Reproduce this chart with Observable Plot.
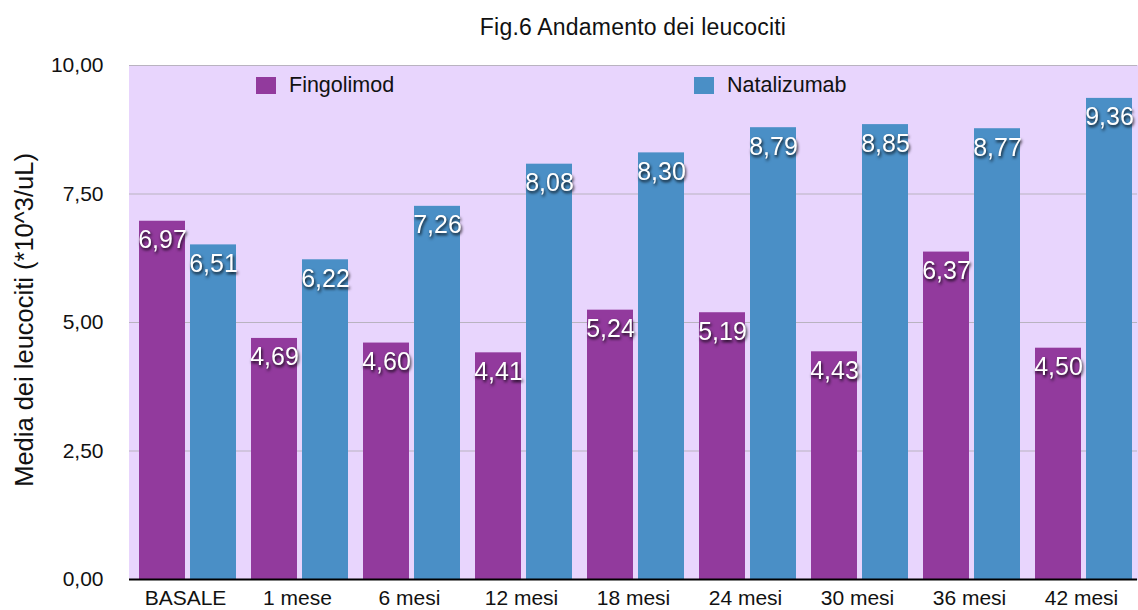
<!DOCTYPE html>
<html>
<head>
<meta charset="utf-8">
<script src="https://cdn.jsdelivr.net/npm/d3@7"></script>
<script src="https://cdn.jsdelivr.net/npm/@observablehq/plot@0.6"></script>
<style>
  body { margin: 0; background: #fff; font-family: "Liberation Sans", Arial, sans-serif; }
  #wrap { position: relative; width: 1138px; height: 610px; }
  #title { position: absolute; left: 129px; width: 1008px; top: 14px; text-align: center; font-size: 23px; letter-spacing: 0.2px; color: #111; }
  .key { position: absolute; top: 73px; font-size: 21.5px; color: #111; display: flex; align-items: center; line-height: 24px; }
  .key span.sw { display: inline-block; width: 20px; height: 17px; margin-right: 13px; }
</style>
</head>
<body>
<div id="wrap">
  <div id="title">Fig.6 Andamento dei leucociti</div>
</div>
<script>
// Time points and series
const periods = ["BASALE", "1 mese", "6 mesi", "12 mesi", "18 mesi", "24 mesi", "30 mesi", "36 mesi", "42 mesi"];
const series = ["Fingolimod", "Natalizumab"];
const fingolimod = [6.97, 4.69, 4.60, 4.41, 5.24, 5.19, 4.43, 6.37, 4.50];
const natalizumab = [6.51, 6.22, 7.26, 8.08, 8.30, 8.79, 8.85, 8.77, 9.36];
const yTicks = [0, 2.5, 5, 7.5, 10];
const colors = ["#923a9d", "#4a8fc6"];
const plotBg = "#e8d5fd";

const rows = periods.flatMap((p, i) => [
  {period: p, series: series[0], value: fingolimod[i]},
  {period: p, series: series[1], value: natalizumab[i]}
]);

const fmt = v => v.toFixed(2).replace(".", ",");

const chart = Plot.plot({
  width: 1138,
  height: 610,
  marginLeft: 129,
  marginRight: 1,
  marginTop: 65,
  marginBottom: 31,
  style: {fontFamily: "Liberation Sans, Arial, sans-serif", fontSize: "21px", color: "#111", background: "transparent"},
  fx: {domain: periods, padding: 0, label: null, tickSize: 0, tickPadding: 11},
  x: {domain: series, paddingInner: 5 / 51, paddingOuter: 7.5 / 51, align: 0.667, axis: null},
  y: {domain: [0, 10], ticks: yTicks, tickFormat: fmt, tickSize: 0, tickPadding: 26, label: null},
  color: {domain: series, range: colors},
  marks: [
    Plot.frame({fill: plotBg, stroke: plotBg}),
    Plot.gridY(yTicks, {stroke: "#b9b3c0", strokeOpacity: 1}),
    Plot.barY(rows, {fx: "period", x: "series", y: "value", fill: "series"}),
    Plot.text(rows, {fx: "period", x: "series", y: "value", text: d => fmt(d.value),
      dy: 19, fill: "white", fontSize: 25, lineAnchor: "middle"}),
    Plot.ruleY([0], {stroke: "#000", strokeWidth: 2})
  ]
});

// soft dark shadow behind the value labels
chart.querySelectorAll('g[aria-label="text"] text').forEach(t => {
  t.style.filter = "drop-shadow(1px 2px 1.5px rgba(0,0,0,0.85))";
});

const wrap = document.getElementById("wrap");
wrap.prepend(chart);

// rotated y-axis title
const ns = "http://www.w3.org/2000/svg";
const yLabel = document.createElementNS(ns, "text");
yLabel.setAttribute("transform", "translate(33,320) rotate(-90)");
yLabel.setAttribute("text-anchor", "middle");
yLabel.setAttribute("font-size", "25.5");
yLabel.setAttribute("fill", "#111");
yLabel.textContent = "Media dei leucociti (*10^3/uL)";
chart.appendChild(yLabel);

// legend inside the plotting area
const keyPos = [256, 694];
series.forEach((s, i) => {
  const k = document.createElement("div");
  k.className = "key";
  k.style.left = keyPos[i] + "px";
  k.innerHTML = `<span class="sw" style="background:${colors[i]}"></span>${s}`;
  wrap.appendChild(k);
});
</script>
</body>
</html>
